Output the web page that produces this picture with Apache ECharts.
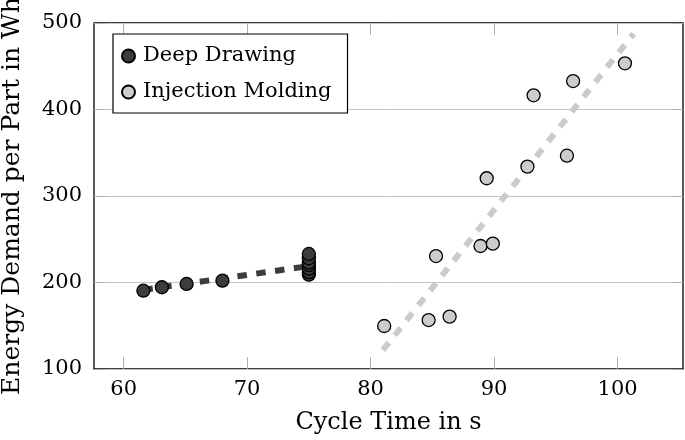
<!DOCTYPE html>
<html>
<head>
<meta charset="utf-8">
<script src="https://cdn.jsdelivr.net/npm/echarts@6/dist/echarts.min.js"></script>
<style>
  html, body { margin: 0; padding: 0; background: #fff; }
  #chart { width: 685px; height: 440px; }
</style>
</head>
<body>
<div id="chart"></div>
<script>
// x ticks
const xTicks = [60, 70, 80, 90, 100];

// Deep Drawing
const ddTime = [61.6, 63.1, 65.1, 68.0, 75.0, 75.0, 75.0, 75.0, 75.0, 75.0, 75.0];
const ddEnergy = [190.5, 194.5, 198.3, 202.1, 209, 212, 216, 220, 223, 228, 233];
// Injection Molding
const imTime = [81.1, 84.7, 86.4, 85.3, 88.9, 89.9, 89.4, 92.7, 95.9, 93.2, 96.4, 100.6];
const imEnergy = [149.7, 156.6, 160.5, 230.6, 242.2, 244.9, 320.5, 333.9, 346.6, 416.4, 432.9, 453.4];

// trend lines
const ddFitTime = [61.6, 75.0];
const ddFitEnergy = [191.5, 219];
const imFitTime = [81.0, 101.3];
const imFitEnergy = [121.8, 487.6];

const pair = (xs, ys) => xs.map((x, i) => [x, ys[i]]);

let myChart = echarts.init(document.getElementById("chart"));
const font = "DejaVu Serif";
const tickColor = "#b0b0b0";

let option = {
  animation: false,
  textStyle: { fontFamily: font },
  grid: {
    left: 94, right: 2, top: 23, bottom: 71,
    containLabel: false,
    outerBoundsMode: "none",
    show: true,
    borderColor: "#000",
    borderWidth: 1.3
  },
  legend: {
    data: ["Deep Drawing", "Injection Molding"],
    orient: "vertical",
    left: 113,
    top: 34,
    padding: [10, 16, 9, 8],
    itemGap: 12,
    itemWidth: 13,
    itemHeight: 13,
    borderColor: "#000",
    borderWidth: 1.2,
    backgroundColor: "#fff",
    textStyle: { fontFamily: font, fontSize: 21, color: "#000", lineHeight: 24, padding: [0, 0, 0, 3] }
  },
  xAxis: [
    {
      type: "value",
      min: 57.6,
      max: 105.3,
      name: "Cycle Time in s",
      nameLocation: "middle",
      nameGap: 42,
      nameTextStyle: { fontFamily: font, fontSize: 24, color: "#000" },
      axisLine: { show: false },
      splitLine: { show: false },
      axisTick: { show: true, inside: true, length: 12, customValues: xTicks, lineStyle: { color: tickColor } },
      axisLabel: { customValues: xTicks, margin: 10, fontFamily: font, fontSize: 21, color: "#000" }
    },
    {
      type: "value",
      position: "top",
      min: 57.6,
      max: 105.3,
      axisLine: { show: false },
      splitLine: { show: false },
      axisTick: { show: true, inside: true, length: 12, customValues: xTicks, lineStyle: { color: tickColor } },
      axisLabel: { show: false }
    }
  ],
  yAxis: [
    {
      type: "value",
      min: 100,
      max: 500,
      interval: 100,
      name: "Energy Demand per Part in Wh",
      nameLocation: "middle",
      nameGap: 69,
      nameTextStyle: { fontFamily: font, fontSize: 25, color: "#000" },
      axisLine: { show: false },
      axisTick: { show: true, inside: true, length: 12, lineStyle: { color: tickColor } },
      splitLine: { show: true, lineStyle: { color: "#c4c4c4", width: 1 } },
      axisLabel: { margin: 12, fontFamily: font, fontSize: 21, color: "#000" }
    },
    {
      type: "value",
      position: "right",
      min: 100,
      max: 500,
      interval: 100,
      axisLine: { show: false },
      axisTick: { show: true, inside: true, length: 12, lineStyle: { color: tickColor } },
      splitLine: { show: false },
      axisLabel: { show: false }
    }
  ],
  series: [
    {
      name: "Deep Drawing Fit",
      type: "line",
      data: pair(ddFitTime, ddFitEnergy),
      showSymbol: false,
      z: 1,
      lineStyle: { color: "#3d3d3d", width: 6, type: [9.5, 9.5] }
    },
    {
      name: "Injection Molding Fit",
      type: "line",
      data: pair(imFitTime, imFitEnergy),
      showSymbol: false,
      z: 1,
      lineStyle: { color: "#cbcbcb", width: 6, type: [9.5, 9.5] }
    },
    {
      name: "Deep Drawing",
      type: "scatter",
      data: pair(ddTime, ddEnergy),
      symbolSize: 13,
      z: 3,
      itemStyle: { color: "#3c3c3c", borderColor: "#000", borderWidth: 1.3, opacity: 1 }
    },
    {
      name: "Injection Molding",
      type: "scatter",
      data: pair(imTime, imEnergy),
      symbolSize: 13,
      z: 3,
      itemStyle: { color: "#cccccc", borderColor: "#000", borderWidth: 1.3, opacity: 1 }
    }
  ]
};

myChart.setOption(option);
</script>
</body>
</html>
